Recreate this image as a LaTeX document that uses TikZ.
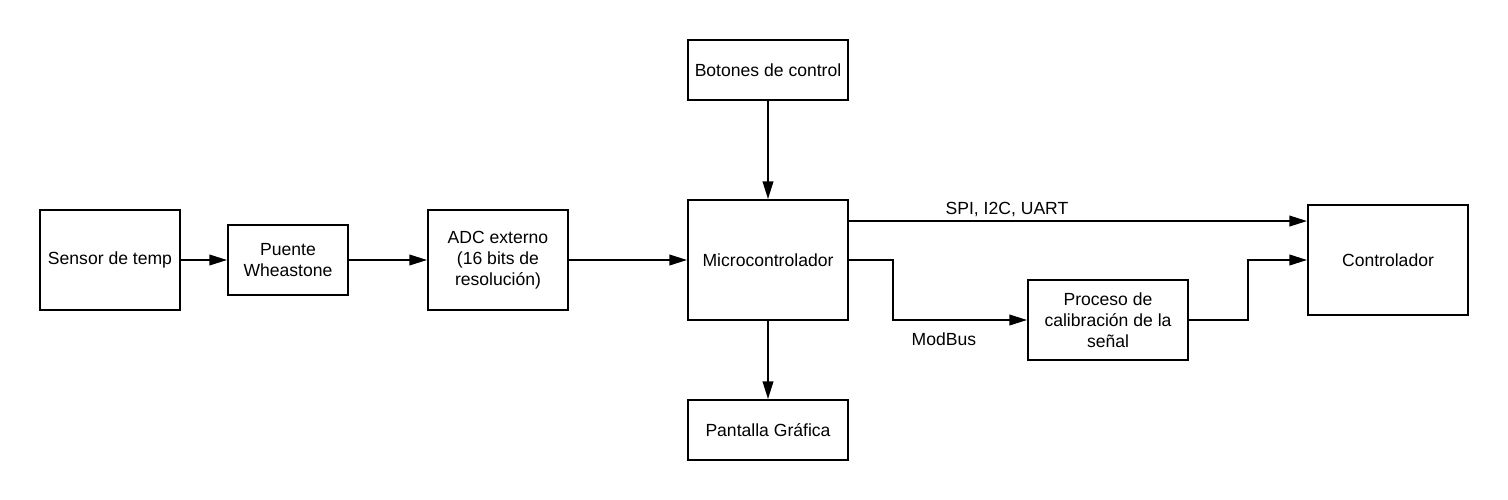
\documentclass[tikz,border=0pt]{standalone}
\usepackage{fontspec}
\setmainfont{Liberation Sans}
\usetikzlibrary{arrows.meta}

\tikzset{
    bloque/.style={draw, line width=1.1pt, align=center, inner sep=0pt, font=\fontsize{10}{12}\selectfont},
    flecha/.style={-{Triangle[length=10pt,width=6pt]}, line width=1.1pt},
    etiqueta/.style={font=\fontsize{10}{12}\selectfont}
}

\begin{document}
\begin{tikzpicture}[x=0.02cm, y=-0.02cm]
    \useasboundingbox (0,0) rectangle (1508,500);

    \node[bloque, minimum width=2.8cm, minimum height=2.0cm] at (110,260) (sensor) {Sensor de temp};
    \node[bloque, minimum width=2.4cm, minimum height=1.4cm] at (288,260) (puente) {Puente\\Wheastone};
    \node[bloque, minimum width=2.8cm, minimum height=2.0cm] at (498,260) (adc) {ADC externo\\(16 bits de\\resolución)};
    \node[bloque, minimum width=3.2cm, minimum height=2.4cm] at (768,260) (micro) {Microcontrolador};
    \node[bloque, minimum width=3.2cm, minimum height=1.2cm] at (768,70) (botones) {Botones de control};
    \node[bloque, minimum width=3.2cm, minimum height=1.2cm] at (768,430) (pantalla) {Pantalla Gráfica};
    \node[bloque, minimum width=3.2cm, minimum height=2.2cm] at (1388,260) (controlador) {Controlador};
    \node[bloque, minimum width=3.2cm, minimum height=1.6cm] at (1108,320) (proceso) {Proceso de\\calibración de la\\señal};

    \coordinate (spi) at ([yshift=-0.44cm]micro.north east);

    \draw[flecha] (sensor) -- (puente);
    \draw[flecha] (puente) -- (adc);
    \draw[flecha] (adc) -- (micro);
    \draw[flecha] (botones) -- (micro);
    \draw[flecha] (micro) -- (pantalla);
    \draw[flecha] (spi) -- (spi -| controlador.west)
        node[etiqueta, pos=0.345, above=-1.5pt] {SPI, I2C, UART};
    \draw[flecha] (micro.east) -- ++(44,0) |- (proceso.west)
        node[etiqueta, pos=0.69, below=3.5pt] {ModBus};
    \draw[flecha] (proceso.east) -- ++(59,0) |- (controlador.west);
\end{tikzpicture}
\end{document}
